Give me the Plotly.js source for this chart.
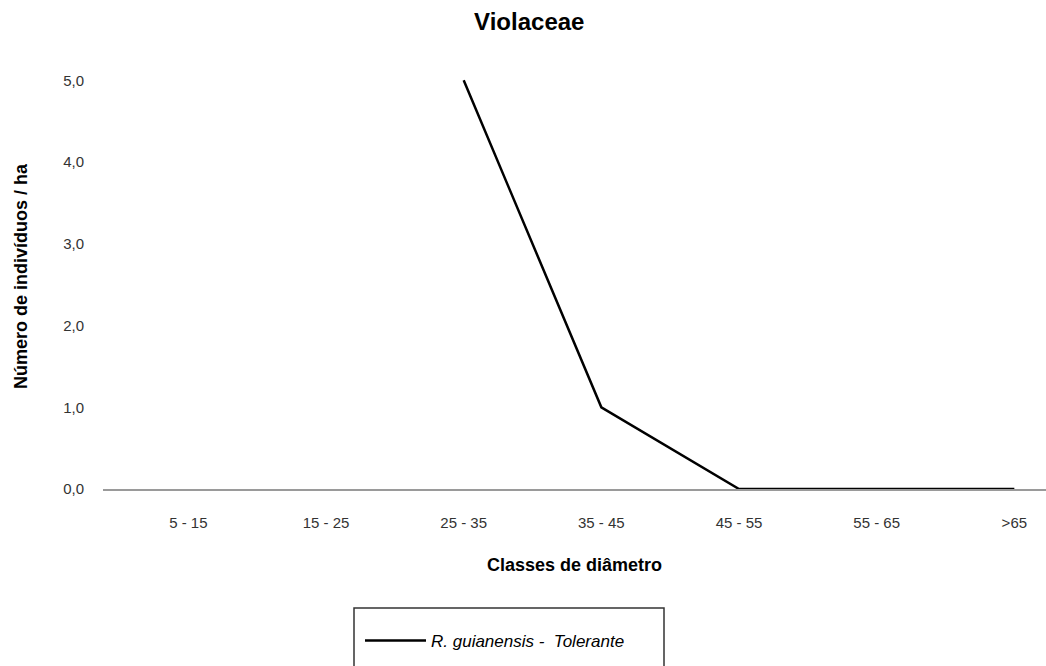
<!DOCTYPE html>
<html>
<head>
<meta charset="utf-8">
<script src="https://cdn.plot.ly/plotly-3.0.1.min.js"></script>
<style>html,body{margin:0;padding:0;background:#fff;}#chart{width:1046px;height:666px;}</style>
</head>
<body>
<div id="chart"></div>
<script>
const categories = ["5 - 15", "15 - 25", "25 - 35", "35 - 45", "45 - 55", "55 - 65", ">65"];
const seriesName = "<i>R. guianensis -  Tolerante</i>";
const values = [null, null, 5.0, 1.0, 0.0, 0.0, 0.0];
const yTickVals = [0, 1, 2, 3, 4, 5];
const yTickText = ["0,0", "1,0", "2,0", "3,0", "4,0", "5,0"];

const FONT = "Liberation Sans, Arial, sans-serif";

const trace = {
  x: categories,
  y: values,
  type: "scatter",
  mode: "lines",
  name: seriesName,
  line: {color: "#000000", width: 2.5},
  connectgaps: false,
  hoverinfo: "skip"
};

const layout = {
  width: 1046,
  height: 666,
  paper_bgcolor: "#ffffff",
  plot_bgcolor: "#ffffff",
  margin: {l: 103, r: 0, t: 64, b: 177},
  title: {
    text: "<b>Violaceae</b>",
    font: {family: FONT, size: 24, color: "#000000"},
    x: 0.506, xanchor: "center", y: 0.968, yanchor: "middle"
  },
  xaxis: {
    type: "category",
    categoryorder: "array",
    categoryarray: categories,
    range: [-0.62, 6.23],
    showgrid: false,
    zeroline: false,
    showline: true,
    linecolor: "#9a9a9a",
    linewidth: 2,
    ticks: "",
    ticklabelstandoff: 19,
    tickfont: {family: FONT, size: 15, color: "#333333"},
    title: {
      text: "<b>Classes de diâmetro</b>",
      font: {family: FONT, size: 18, color: "#000000"},
      standoff: 28
    }
  },
  yaxis: {
    range: [0, 5.2],
    tickvals: yTickVals,
    ticktext: yTickText,
    showgrid: false,
    zeroline: false,
    showline: false,
    ticks: "",
    ticklabelstandoff: 18,
    tickfont: {family: FONT, size: 15, color: "#333333"},
    title: {
      text: "<b>Número de indivíduos / ha</b>",
      font: {family: FONT, size: 18, color: "#000000"},
      standoff: 30
    }
  },
  showlegend: true,
  legend: {
    x: (360 - 103) / 943, xanchor: "left",
    y: -(638 - 489 - 15) / 425, yanchor: "top",
    orientation: "v",
    bgcolor: "rgba(0,0,0,0)",
    borderwidth: 0,
    font: {family: FONT, size: 17, color: "#000000"},
    itemwidth: 61
  },
  shapes: [{
    type: "rect", xref: "paper", yref: "paper",
    x0: (354 - 103) / 943, x1: (664 - 103) / 943,
    y0: -(608 - 489) / 425, y1: -(700 - 489) / 425,
    line: {color: "#333333", width: 1.5},
    fillcolor: "rgba(0,0,0,0)"
  }]
};

Plotly.newPlot("chart", [trace], layout, {displayModeBar: false, staticPlot: true});
</script>
</body>
</html>
